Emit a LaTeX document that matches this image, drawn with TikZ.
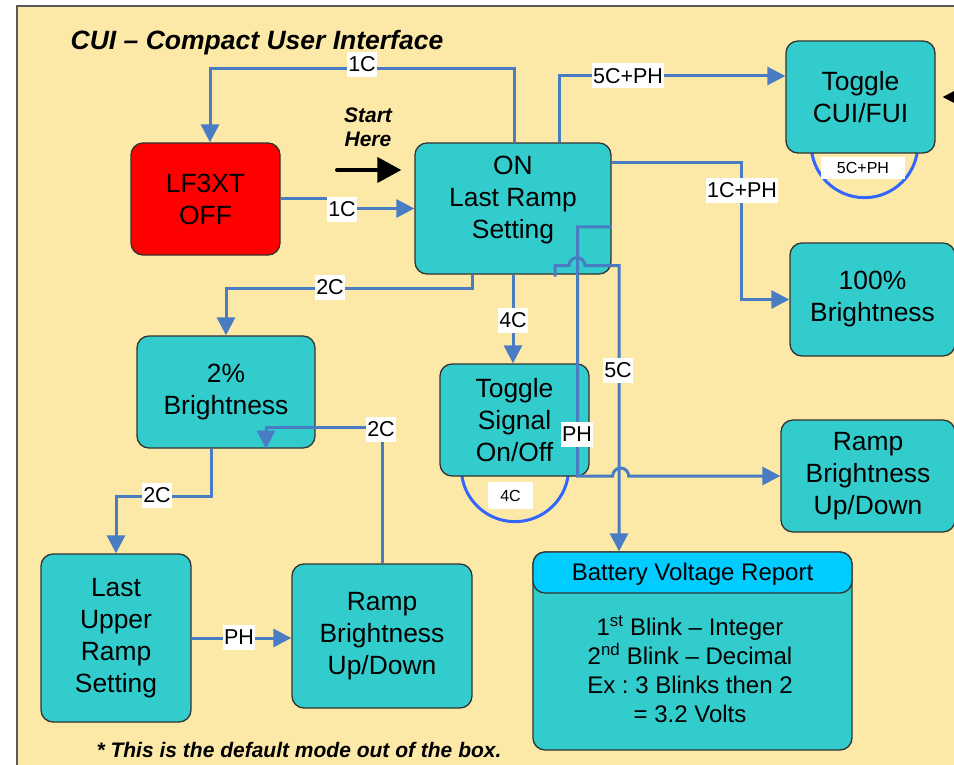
\documentclass[tikz,border=0pt]{standalone}
\usepackage{fontspec}
\setmainfont{Liberation Sans}
\usetikzlibrary{arrows.meta,calc,backgrounds}
\frenchspacing
\definecolor{bgyellow}{RGB}{252,233,167}
\definecolor{teal1}{RGB}{51,204,204}
\definecolor{hdrcyan}{RGB}{0,204,255}
\definecolor{connblue}{RGB}{74,124,196}
\definecolor{loopblue}{RGB}{51,102,255}
\definecolor{boxline}{RGB}{51,51,51}
\definecolor{framegray}{RGB}{90,90,90}
\definecolor{lfred}{RGB}{255,0,0}
\tikzset{
  nodefont/.style={font=\fontsize{26.4}{32}\selectfont},
  tbox/.style={draw=boxline, line width=1.3pt, fill=teal1, rounded corners=12pt, align=center, inner sep=0pt, nodefont},
  conn/.style={draw=connblue, line width=3pt, -{Triangle[length=18pt,width=18pt]}},
  lbl/.style={fill=white, inner xsep=1pt, inner ysep=0pt, minimum height=25pt, font=\fontsize{21.5}{24}\selectfont},
  slbl/.style={fill=white, inner sep=0pt, font=\fontsize{16}{18}\selectfont},
  selfloop/.style={draw=loopblue, line width=3pt},
  blackarrow/.style={draw=black, line width=4pt, line cap=round, -{Triangle[length=24pt,width=25pt]}},
  bitext/.style={font=\fontsize{21}{24}\selectfont\bfseries\itshape}
}
\begin{document}
\begin{tikzpicture}[x=1pt,y=-1pt]
\useasboundingbox (0,0) rectangle (954,765);
\begin{scope}[on background layer]
  \fill[bgyellow] (17,6) rectangle (990,800);
  \draw[framegray, line width=1.2pt] (17,800) -- (17,6) -- (990,6);
\end{scope}

% title and notes
\node[font=\fontsize{26.5}{30}\selectfont\bfseries\itshape, anchor=base] (title) at (257,49.5) {CUI – Compact User Interface};
\node[bitext, anchor=base] (foot) at (299,757) {* This is the default mode out of the box.};
\node[bitext, align=center] (start) at (368,127) {Start\\Here};

% boxes
\node[tbox, fill=lfred, minimum width=149pt, minimum height=112pt] (lf) at (205.5,199) {LF3XT\\OFF};
\node[tbox, minimum width=196pt, minimum height=131pt] (on) at (513,208.5) {};
\node[nodefont, align=center, inner sep=0pt] (ont) at (513,200) {ON\\Last Ramp\\Setting};
\node[tbox, minimum width=149pt, minimum height=112pt] (tcf) at (860.5,97) {Toggle\\CUI/FUI};
\node[tbox, minimum width=165pt, minimum height=113pt] (b100) at (872.5,299.5) {100\%\\Brightness};
\node[tbox, minimum width=149pt, minimum height=112pt] (tsig) at (514.5,420) {Toggle\\Signal\\On/Off};
\node[tbox, minimum width=174pt, minimum height=112pt] (rampR) at (868,476) {Ramp\\Brightness\\Up/Down};
\node[tbox, minimum width=178pt, minimum height=112pt] (p2) at (226,392) {2\%\\Brightness};
\node[tbox, minimum width=150pt, minimum height=168pt] (lu) at (116,638) {Last\\Upper\\Ramp\\Setting};
\node[tbox, minimum width=180pt, minimum height=144pt] (rampM) at (382,636) {Ramp\\Brightness\\Up/Down};
\node[tbox, minimum width=319pt, minimum height=198pt] (bat) at (692.5,651) {};
\node[tbox, fill=hdrcyan, minimum width=319pt, minimum height=41pt] (bath) at (692.5,572.5) {};
\node[font=\fontsize{24}{29}\selectfont, inner sep=0pt] (batht) at (692.5,574) {Battery Voltage Report};
\node[font=\fontsize{24}{29}\selectfont, align=center, inner sep=0pt] (batt) at (690,669) {1\textsuperscript{st} Blink – Integer\\2\textsuperscript{nd} Blink – Decimal\\Ex : 3 Blinks then 2\\= 3.2 Volts};

% self loops (behind the boxes)
\begin{scope}[on background layer]
  \draw[selfloop] ($(tsig.south)+(0.5,-8.7)$) circle[radius=53.7pt];
  \draw[selfloop] ($(tcf.south)+(4,-9.3)$) circle[radius=53.3pt];
\end{scope}

% connectors
\draw[conn] ($(on.north)+(1,0)$) -- ($(on.north)+(1,-74)$) -| ($(lf.north)+(4.5,0)$);
\draw[conn] (lf.east) -- ++(48,0) |- (on.west);
\draw[conn] ($(on.north)+(46,0)$) |- ($(tcf.west)+(0,-21)$);
\draw[conn] ($(on.east)+(0,-45.5)$) -| ($(b100.west)+(-48,0)$) -- (b100.west);
\draw[conn] (on.south) -- (on.south |- tsig.north);
\draw[conn] ($(on.east)+(0,18.5)$) -- ++(-34,0) -- ++(0,249) -- ++(35,0) arc[start angle=180,end angle=0,radius=8pt] -- (rampR.west);
\draw[conn] ($(on.south)+(42,2)$) -- ++(0,-11) -- ++(14,0) arc[start angle=180,end angle=0,radius=8pt] -- ++(34,0) -- ($(bat.north)+(-73.5,0)$);
\draw[conn] ($(on.south)+(-41,0)$) -- ++(0,14) -| (p2.north);
\draw[conn] ($(p2.south)+(-15,0)$) -- ++(0,48) -| (lu.north);
\draw[conn] (lu.east) -- (lu.east -| rampM.west);
\draw[conn] (rampM.north) -- ++(0,-136) -| ($(p2.south)+(40,0)$);

% black arrows
\coordinate (s0) at (337,170);
\draw[blackarrow] (s0) -- ($(on.west)+(-13,-38.5)$);
\coordinate (r0) at (990,97);
\draw[draw=black, line width=3pt, -{Triangle[length=18pt,width=18pt]}] (r0) -- ($(tcf.east)+(7,0)$);

% labels
\node[lbl] (l1) at (362,64.5) {1C};
\node[lbl] (l2) at (342,209.5) {1C};
\node[lbl] (l3) at (628,76) {5C+PH};
\node[lbl] (l4) at (742,190.5) {1C+PH};
\node[lbl] (l5) at (513,320.5) {4C};
\node[lbl] (l6) at (577,434.5) {PH};
\node[lbl] (l7) at (618,370.5) {5C};
\node[lbl] (l8) at (330,287) {2C};
\node[lbl] (l9) at (157,495.5) {2C};
\node[lbl] (l10) at (239,637) {PH};
\node[lbl] (l11) at (381,429.5) {2C};
\node[slbl, minimum width=45pt, minimum height=27pt] (s1) at (510.5,495.5) {4C};
\node[slbl, minimum width=84pt, minimum height=22pt] (s2) at (863,168) {5C+PH};
\end{tikzpicture}
\end{document}
